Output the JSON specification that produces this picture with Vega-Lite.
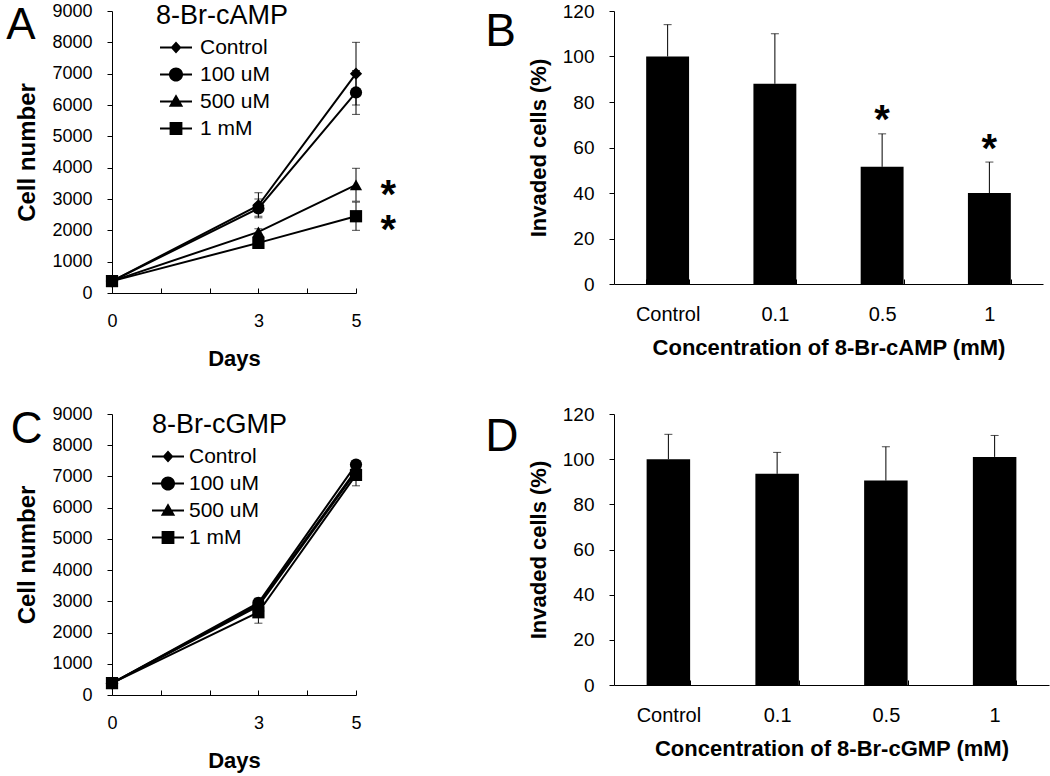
{
  "$schema": "https://vega.github.io/schema/vega-lite/v6.json",
  "background": "white",
  "autosize": {"type": "none"},
  "padding": {"left": 112, "top": 11, "right": 938, "bottom": 765},
  "bounds": "flush",
  "align": "each",
  "columns": 2,
  "spacing": {"row": 121, "column": 258},
  "resolve": {"scale": {"shape": "independent"}, "legend": {"shape": "independent"}},
  "config": {
    "font": "Liberation Sans",
    "view": {"stroke": null},
    "axis": {
      "grid": false,
      "domainColor": "#000",
      "tickColor": "#000",
      "labelColor": "#000",
      "titleColor": "#000",
      "labelFontSize": 18,
      "titleFontSize": 22,
      "titleFontWeight": "bold",
      "domainWidth": 1,
      "tickWidth": 1,
      "labelOverlap": false,
      "labelFlush": false
    },
    "axisY": {"tickSize": 5, "labelPadding": 15, "titlePadding": 9},
    "axisX": {"tickSize": -5, "labelPadding": 24, "titlePadding": 18, "labelAngle": 0},
    "title": {"anchor": "start", "frame": "bounds", "fontSize": 46, "fontWeight": "normal", "color": "#000", "offset": 0}
  },
  "datasets": {
    "growth": [
      {"agent": "cAMP", "series": "Control", "day": 0, "mean": 380, "lo": null, "hi": null},
      {"agent": "cAMP", "series": "Control", "day": 3, "mean": 2800, "lo": 2450, "hi": 3200},
      {"agent": "cAMP", "series": "Control", "day": 5, "mean": 7000, "lo": 6000, "hi": 8000},
      {"agent": "cAMP", "series": "100 uM", "day": 0, "mean": 380, "lo": null, "hi": null},
      {"agent": "cAMP", "series": "100 uM", "day": 3, "mean": 2700, "lo": 2400, "hi": 3000},
      {"agent": "cAMP", "series": "100 uM", "day": 5, "mean": 6400, "lo": 5700, "hi": 7100},
      {"agent": "cAMP", "series": "500 uM", "day": 0, "mean": 380, "lo": null, "hi": null},
      {"agent": "cAMP", "series": "500 uM", "day": 3, "mean": 1950, "lo": 1850, "hi": 2050},
      {"agent": "cAMP", "series": "500 uM", "day": 5, "mean": 3450, "lo": 2930, "hi": 3980},
      {"agent": "cAMP", "series": "1 mM", "day": 0, "mean": 380, "lo": null, "hi": null},
      {"agent": "cAMP", "series": "1 mM", "day": 3, "mean": 1600, "lo": 1520, "hi": 1680},
      {"agent": "cAMP", "series": "1 mM", "day": 5, "mean": 2450, "lo": 2000, "hi": 2900},
      {"agent": "cGMP", "series": "Control", "day": 0, "mean": 380, "lo": null, "hi": null},
      {"agent": "cGMP", "series": "Control", "day": 3, "mean": 2900, "lo": 2750, "hi": 3050},
      {"agent": "cGMP", "series": "Control", "day": 5, "mean": 7200, "lo": 7000, "hi": 7400},
      {"agent": "cGMP", "series": "100 uM", "day": 0, "mean": 380, "lo": null, "hi": null},
      {"agent": "cGMP", "series": "100 uM", "day": 3, "mean": 2950, "lo": 2800, "hi": 3100},
      {"agent": "cGMP", "series": "100 uM", "day": 5, "mean": 7380, "lo": 7250, "hi": 7500},
      {"agent": "cGMP", "series": "500 uM", "day": 0, "mean": 380, "lo": null, "hi": null},
      {"agent": "cGMP", "series": "500 uM", "day": 3, "mean": 2850, "lo": 2700, "hi": 3000},
      {"agent": "cGMP", "series": "500 uM", "day": 5, "mean": 7150, "lo": 6950, "hi": 7350},
      {"agent": "cGMP", "series": "1 mM", "day": 0, "mean": 380, "lo": null, "hi": null},
      {"agent": "cGMP", "series": "1 mM", "day": 3, "mean": 2650, "lo": 2300, "hi": 3000},
      {"agent": "cGMP", "series": "1 mM", "day": 5, "mean": 7050, "lo": 6700, "hi": 7400}
    ],
    "invasion": [
      {"agent": "cAMP", "conc": "Control", "mean": 100, "hi": 114},
      {"agent": "cAMP", "conc": "0.1", "mean": 88, "hi": 110},
      {"agent": "cAMP", "conc": "0.5", "mean": 51.5, "hi": 66},
      {"agent": "cAMP", "conc": "1", "mean": 40, "hi": 53.6},
      {"agent": "cGMP", "conc": "Control", "mean": 100, "hi": 111},
      {"agent": "cGMP", "conc": "0.1", "mean": 93.5, "hi": 103},
      {"agent": "cGMP", "conc": "0.5", "mean": 90.5, "hi": 105.5},
      {"agent": "cGMP", "conc": "1", "mean": 101, "hi": 110.5}
    ],
    "starsA": [
      {"day": 5.66, "value": 3400, "label": "*"},
      {"day": 5.66, "value": 2300, "label": "*"}
    ],
    "starsB": [
      {"conc": "0.5", "value": 76, "label": "*"},
      {"conc": "1", "value": 63.5, "label": "*"}
    ],
    "letters": [
      {"panel": "A", "day": -1.865, "value": 8100, "label": "A"},
      {"panel": "C", "day": -1.75, "value": 8080, "label": "C"}
    ]
  },
  "concat": [
    {
      "width": 244,
      "height": 282,
      "resolve": {"scale": {"shape": "independent"}, "legend": {"shape": "independent"}},
      "layer": [
        {
          "data": {"name": "growth"},
          "transform": [{"filter": "datum.agent == 'cAMP' && datum.lo != null"}],
          "mark": {"type": "rule", "color": "#000", "strokeWidth": 1},
          "encoding": {
            "x": {"field": "day", "type": "quantitative", "scale": {"domain": [0, 5], "nice": false}, "axis": {"title": "Days", "values": [0, 1, 2, 3, 4, 5], "tickCount": 6, "labelExpr": "(datum.value == 0 || datum.value == 3 || datum.value == 5) ? datum.label : ''"}},
            "y": {"field": "lo", "type": "quantitative", "scale": {"domain": [0, 9000], "nice": false}, "axis": {"title": "Cell number", "titleFontSize": 24, "titlePadding": 12, "tickCount": 10, "values": [0, 1000, 2000, 3000, 4000, 5000, 6000, 7000, 8000, 9000], "format": "d"}},
            "y2": {"field": "hi"}
          }
        },
        {
          "data": {"name": "growth"},
          "transform": [{"filter": "datum.agent == 'cAMP' && datum.lo != null"}],
          "mark": {"type": "tick", "orient": "horizontal", "color": "#000", "size": 8, "thickness": 1},
          "encoding": {"x": {"field": "day", "type": "quantitative"}, "y": {"field": "lo", "type": "quantitative"}}
        },
        {
          "data": {"name": "growth"},
          "transform": [{"filter": "datum.agent == 'cAMP' && datum.lo != null"}],
          "mark": {"type": "tick", "orient": "horizontal", "color": "#000", "size": 8, "thickness": 1},
          "encoding": {"x": {"field": "day", "type": "quantitative"}, "y": {"field": "hi", "type": "quantitative"}}
        },
        {
          "data": {"name": "growth"},
          "transform": [{"filter": "datum.agent == 'cAMP'"}],
          "mark": {"type": "line", "color": "#000", "strokeWidth": 2},
          "encoding": {"x": {"field": "day", "type": "quantitative"}, "y": {"field": "mean", "type": "quantitative"}, "detail": {"field": "series"}}
        },
        {
          "data": {"name": "growth"},
          "transform": [{"filter": "datum.agent == 'cAMP'"}],
          "mark": {"type": "point", "filled": true, "color": "#000", "opacity": 1, "size": 150},
          "encoding": {
            "x": {"field": "day", "type": "quantitative"},
            "y": {"field": "mean", "type": "quantitative"},
            "shape": {"field": "series", "type": "nominal", "scale": {"domain": ["Control", "100 uM", "500 uM", "1 mM"], "range": ["diamond", "circle", "triangle-up", "square"]}, "legend": null}
          }
        },
        {
          "data": {"name": "growth"},
          "transform": [{"filter": "datum.agent == 'cAMP'"}],
          "mark": {"type": "point", "filled": true, "color": "#000", "opacity": 0, "size": 0},
          "encoding": {
            "x": {"field": "day", "type": "quantitative"},
            "y": {"field": "mean", "type": "quantitative"},
            "shape": {
              "field": "series", "type": "nominal",
              "scale": {"domain": ["Control", "100 uM", "500 uM", "1 mM"], "range": [
                "M-1,-0.065H1V0.065H-1ZM0,-0.38L0.34,0L0,0.38L-0.34,0Z",
                "M-1,-0.065H1V0.065H-1ZM-0.44,0A0.44,0.44,0,1,1,0.44,0A0.44,0.44,0,1,1,-0.44,0Z",
                "M-1,-0.065H1V0.065H-1ZM0,-0.45L0.45,0.33L-0.45,0.33Z",
                "M-1,-0.065H1V0.065H-1ZM-0.4,-0.4H0.4V0.4H-0.4Z"
              ]},
              "legend": {
                "title": "8-Br-cAMP", "orient": "none", "legendX": 44, "legendY": -8,
                "titleFontSize": 27, "titleFontWeight": "normal", "titleColor": "#000", "titlePadding": 4, "titleLimit": 300,
                "labelFontSize": 21, "labelColor": "#000", "labelOffset": 8, "labelLimit": 300,
                "symbolSize": 1024, "symbolOffset": 4, "clipHeight": 27, "rowPadding": 0, "symbolOpacity": 1,
                "symbolFillColor": "#000", "symbolStrokeWidth": 0
              }
            }
          }
        },
        {
          "data": {"name": "starsA"},
          "mark": {"type": "text", "fontSize": 40, "fontWeight": "bold", "color": "#000", "baseline": "middle", "align": "center", "dy": 10},
          "encoding": {"x": {"field": "day", "type": "quantitative"}, "y": {"field": "value", "type": "quantitative"}, "text": {"field": "label"}}
        },
        {
          "data": {"name": "letters"},
          "transform": [{"filter": "datum.panel == 'A'"}],
          "mark": {"type": "text", "fontSize": 44, "color": "#000", "baseline": "alphabetic", "align": "center"},
          "encoding": {"x": {"field": "day", "type": "quantitative"}, "y": {"field": "value", "type": "quantitative"}, "text": {"field": "label"}}
        }
      ]
    },
    {
      "width": 429,
      "height": 273,
      "title": {"text": "B", "dx": -42, "dy": 58},
      "layer": [
        {
          "data": {"name": "invasion"},
          "transform": [{"filter": "datum.agent == 'cAMP'"}],
          "mark": {"type": "rule", "color": "#000", "strokeWidth": 1},
          "encoding": {
            "x": {"field": "conc", "type": "nominal", "sort": ["Control", "0.1", "0.5", "1"], "scale": {"paddingInner": 0.6, "paddingOuter": 0.3}, "axis": {"title": "Concentration of 8-Br-cAMP (mM)", "tickBand": "extent", "labelFontSize": 20, "labelPadding": 25, "titlePadding": 13}},
            "y": {"field": "mean", "type": "quantitative", "scale": {"domain": [0, 120], "nice": false}, "axis": {"title": "Invaded cells (%)", "labelFontSize": 19, "tickCount": 7, "values": [0, 20, 40, 60, 80, 100, 120], "titlePadding": 12}},
            "y2": {"field": "hi"}
          }
        },
        {
          "data": {"name": "invasion"},
          "transform": [{"filter": "datum.agent == 'cAMP'"}],
          "mark": {"type": "bar", "color": "#000"},
          "encoding": {"x": {"field": "conc", "type": "nominal", "sort": ["Control", "0.1", "0.5", "1"]}, "y": {"field": "mean", "type": "quantitative"}}
        },
        {
          "data": {"name": "invasion"},
          "transform": [{"filter": "datum.agent == 'cAMP'"}],
          "mark": {"type": "tick", "orient": "horizontal", "color": "#000", "size": 8, "thickness": 1},
          "encoding": {"x": {"field": "conc", "type": "nominal", "sort": ["Control", "0.1", "0.5", "1"]}, "y": {"field": "hi", "type": "quantitative"}}
        },
        {
          "data": {"name": "starsB"},
          "mark": {"type": "text", "fontSize": 40, "fontWeight": "bold", "color": "#000", "baseline": "middle", "align": "center", "dy": 10},
          "encoding": {"x": {"field": "conc", "type": "nominal", "sort": ["Control", "0.1", "0.5", "1"]}, "y": {"field": "value", "type": "quantitative"}, "text": {"field": "label"}}
        }
      ]
    },
    {
      "width": 244,
      "height": 281,
      "resolve": {"scale": {"shape": "independent"}, "legend": {"shape": "independent"}},
      "layer": [
        {
          "data": {"name": "growth"},
          "transform": [{"filter": "datum.agent == 'cGMP' && datum.lo != null"}],
          "mark": {"type": "rule", "color": "#000", "strokeWidth": 1},
          "encoding": {
            "x": {"field": "day", "type": "quantitative", "scale": {"domain": [0, 5], "nice": false}, "axis": {"title": "Days", "values": [0, 1, 2, 3, 4, 5], "tickCount": 6, "labelExpr": "(datum.value == 0 || datum.value == 3 || datum.value == 5) ? datum.label : ''"}},
            "y": {"field": "lo", "type": "quantitative", "scale": {"domain": [0, 9000], "nice": false}, "axis": {"title": "Cell number", "titleFontSize": 24, "titlePadding": 12, "tickCount": 10, "values": [0, 1000, 2000, 3000, 4000, 5000, 6000, 7000, 8000, 9000], "format": "d"}},
            "y2": {"field": "hi"}
          }
        },
        {
          "data": {"name": "growth"},
          "transform": [{"filter": "datum.agent == 'cGMP' && datum.lo != null"}],
          "mark": {"type": "tick", "orient": "horizontal", "color": "#000", "size": 8, "thickness": 1},
          "encoding": {"x": {"field": "day", "type": "quantitative"}, "y": {"field": "lo", "type": "quantitative"}}
        },
        {
          "data": {"name": "growth"},
          "transform": [{"filter": "datum.agent == 'cGMP' && datum.lo != null"}],
          "mark": {"type": "tick", "orient": "horizontal", "color": "#000", "size": 8, "thickness": 1},
          "encoding": {"x": {"field": "day", "type": "quantitative"}, "y": {"field": "hi", "type": "quantitative"}}
        },
        {
          "data": {"name": "growth"},
          "transform": [{"filter": "datum.agent == 'cGMP'"}],
          "mark": {"type": "line", "color": "#000", "strokeWidth": 2},
          "encoding": {"x": {"field": "day", "type": "quantitative"}, "y": {"field": "mean", "type": "quantitative"}, "detail": {"field": "series"}}
        },
        {
          "data": {"name": "growth"},
          "transform": [{"filter": "datum.agent == 'cGMP'"}],
          "mark": {"type": "point", "filled": true, "color": "#000", "opacity": 1, "size": 150},
          "encoding": {
            "x": {"field": "day", "type": "quantitative"},
            "y": {"field": "mean", "type": "quantitative"},
            "shape": {"field": "series", "type": "nominal", "scale": {"domain": ["Control", "100 uM", "500 uM", "1 mM"], "range": ["diamond", "circle", "triangle-up", "square"]}, "legend": null}
          }
        },
        {
          "data": {"name": "growth"},
          "transform": [{"filter": "datum.agent == 'cGMP'"}],
          "mark": {"type": "point", "filled": true, "color": "#000", "opacity": 0, "size": 0},
          "encoding": {
            "x": {"field": "day", "type": "quantitative"},
            "y": {"field": "mean", "type": "quantitative"},
            "shape": {
              "field": "series", "type": "nominal",
              "scale": {"domain": ["Control", "100 uM", "500 uM", "1 mM"], "range": [
                "M-1,-0.065H1V0.065H-1ZM0,-0.38L0.34,0L0,0.38L-0.34,0Z",
                "M-1,-0.065H1V0.065H-1ZM-0.44,0A0.44,0.44,0,1,1,0.44,0A0.44,0.44,0,1,1,-0.44,0Z",
                "M-1,-0.065H1V0.065H-1ZM0,-0.45L0.45,0.33L-0.45,0.33Z",
                "M-1,-0.065H1V0.065H-1ZM-0.4,-0.4H0.4V0.4H-0.4Z"
              ]},
              "legend": {
                "title": "8-Br-cGMP", "orient": "none", "legendX": 40, "legendY": -2,
                "titleFontSize": 27, "titleFontWeight": "normal", "titleColor": "#000", "titlePadding": 4, "titleLimit": 300,
                "labelFontSize": 21, "labelColor": "#000", "labelOffset": 5, "labelLimit": 300,
                "symbolSize": 1024, "clipHeight": 27, "rowPadding": 0, "symbolOpacity": 1,
                "symbolFillColor": "#000", "symbolStrokeWidth": 0
              }
            }
          }
        },
        {
          "data": {"name": "letters"},
          "transform": [{"filter": "datum.panel == 'C'"}],
          "mark": {"type": "text", "fontSize": 44, "color": "#000", "baseline": "alphabetic", "align": "center"},
          "encoding": {"x": {"field": "day", "type": "quantitative"}, "y": {"field": "value", "type": "quantitative"}, "text": {"field": "label"}}
        }
      ]
    },
    {
      "width": 435,
      "height": 271,
      "title": {"text": "D", "dx": -42, "dy": 60},
      "layer": [
        {
          "data": {"name": "invasion"},
          "transform": [{"filter": "datum.agent == 'cGMP'"}],
          "mark": {"type": "rule", "color": "#000", "strokeWidth": 1},
          "encoding": {
            "x": {"field": "conc", "type": "nominal", "sort": ["Control", "0.1", "0.5", "1"], "scale": {"paddingInner": 0.6, "paddingOuter": 0.3}, "axis": {"title": "Concentration of 8-Br-cGMP (mM)", "tickBand": "extent", "labelFontSize": 20, "labelPadding": 25, "titlePadding": 13}},
            "y": {"field": "mean", "type": "quantitative", "scale": {"domain": [0, 120], "nice": false}, "axis": {"title": "Invaded cells (%)", "labelFontSize": 19, "tickCount": 7, "values": [0, 20, 40, 60, 80, 100, 120], "titlePadding": 12}},
            "y2": {"field": "hi"}
          }
        },
        {
          "data": {"name": "invasion"},
          "transform": [{"filter": "datum.agent == 'cGMP'"}],
          "mark": {"type": "bar", "color": "#000"},
          "encoding": {"x": {"field": "conc", "type": "nominal", "sort": ["Control", "0.1", "0.5", "1"]}, "y": {"field": "mean", "type": "quantitative"}}
        },
        {
          "data": {"name": "invasion"},
          "transform": [{"filter": "datum.agent == 'cGMP'"}],
          "mark": {"type": "tick", "orient": "horizontal", "color": "#000", "size": 8, "thickness": 1},
          "encoding": {"x": {"field": "conc", "type": "nominal", "sort": ["Control", "0.1", "0.5", "1"]}, "y": {"field": "hi", "type": "quantitative"}}
        }
      ]
    }
  ]
}
